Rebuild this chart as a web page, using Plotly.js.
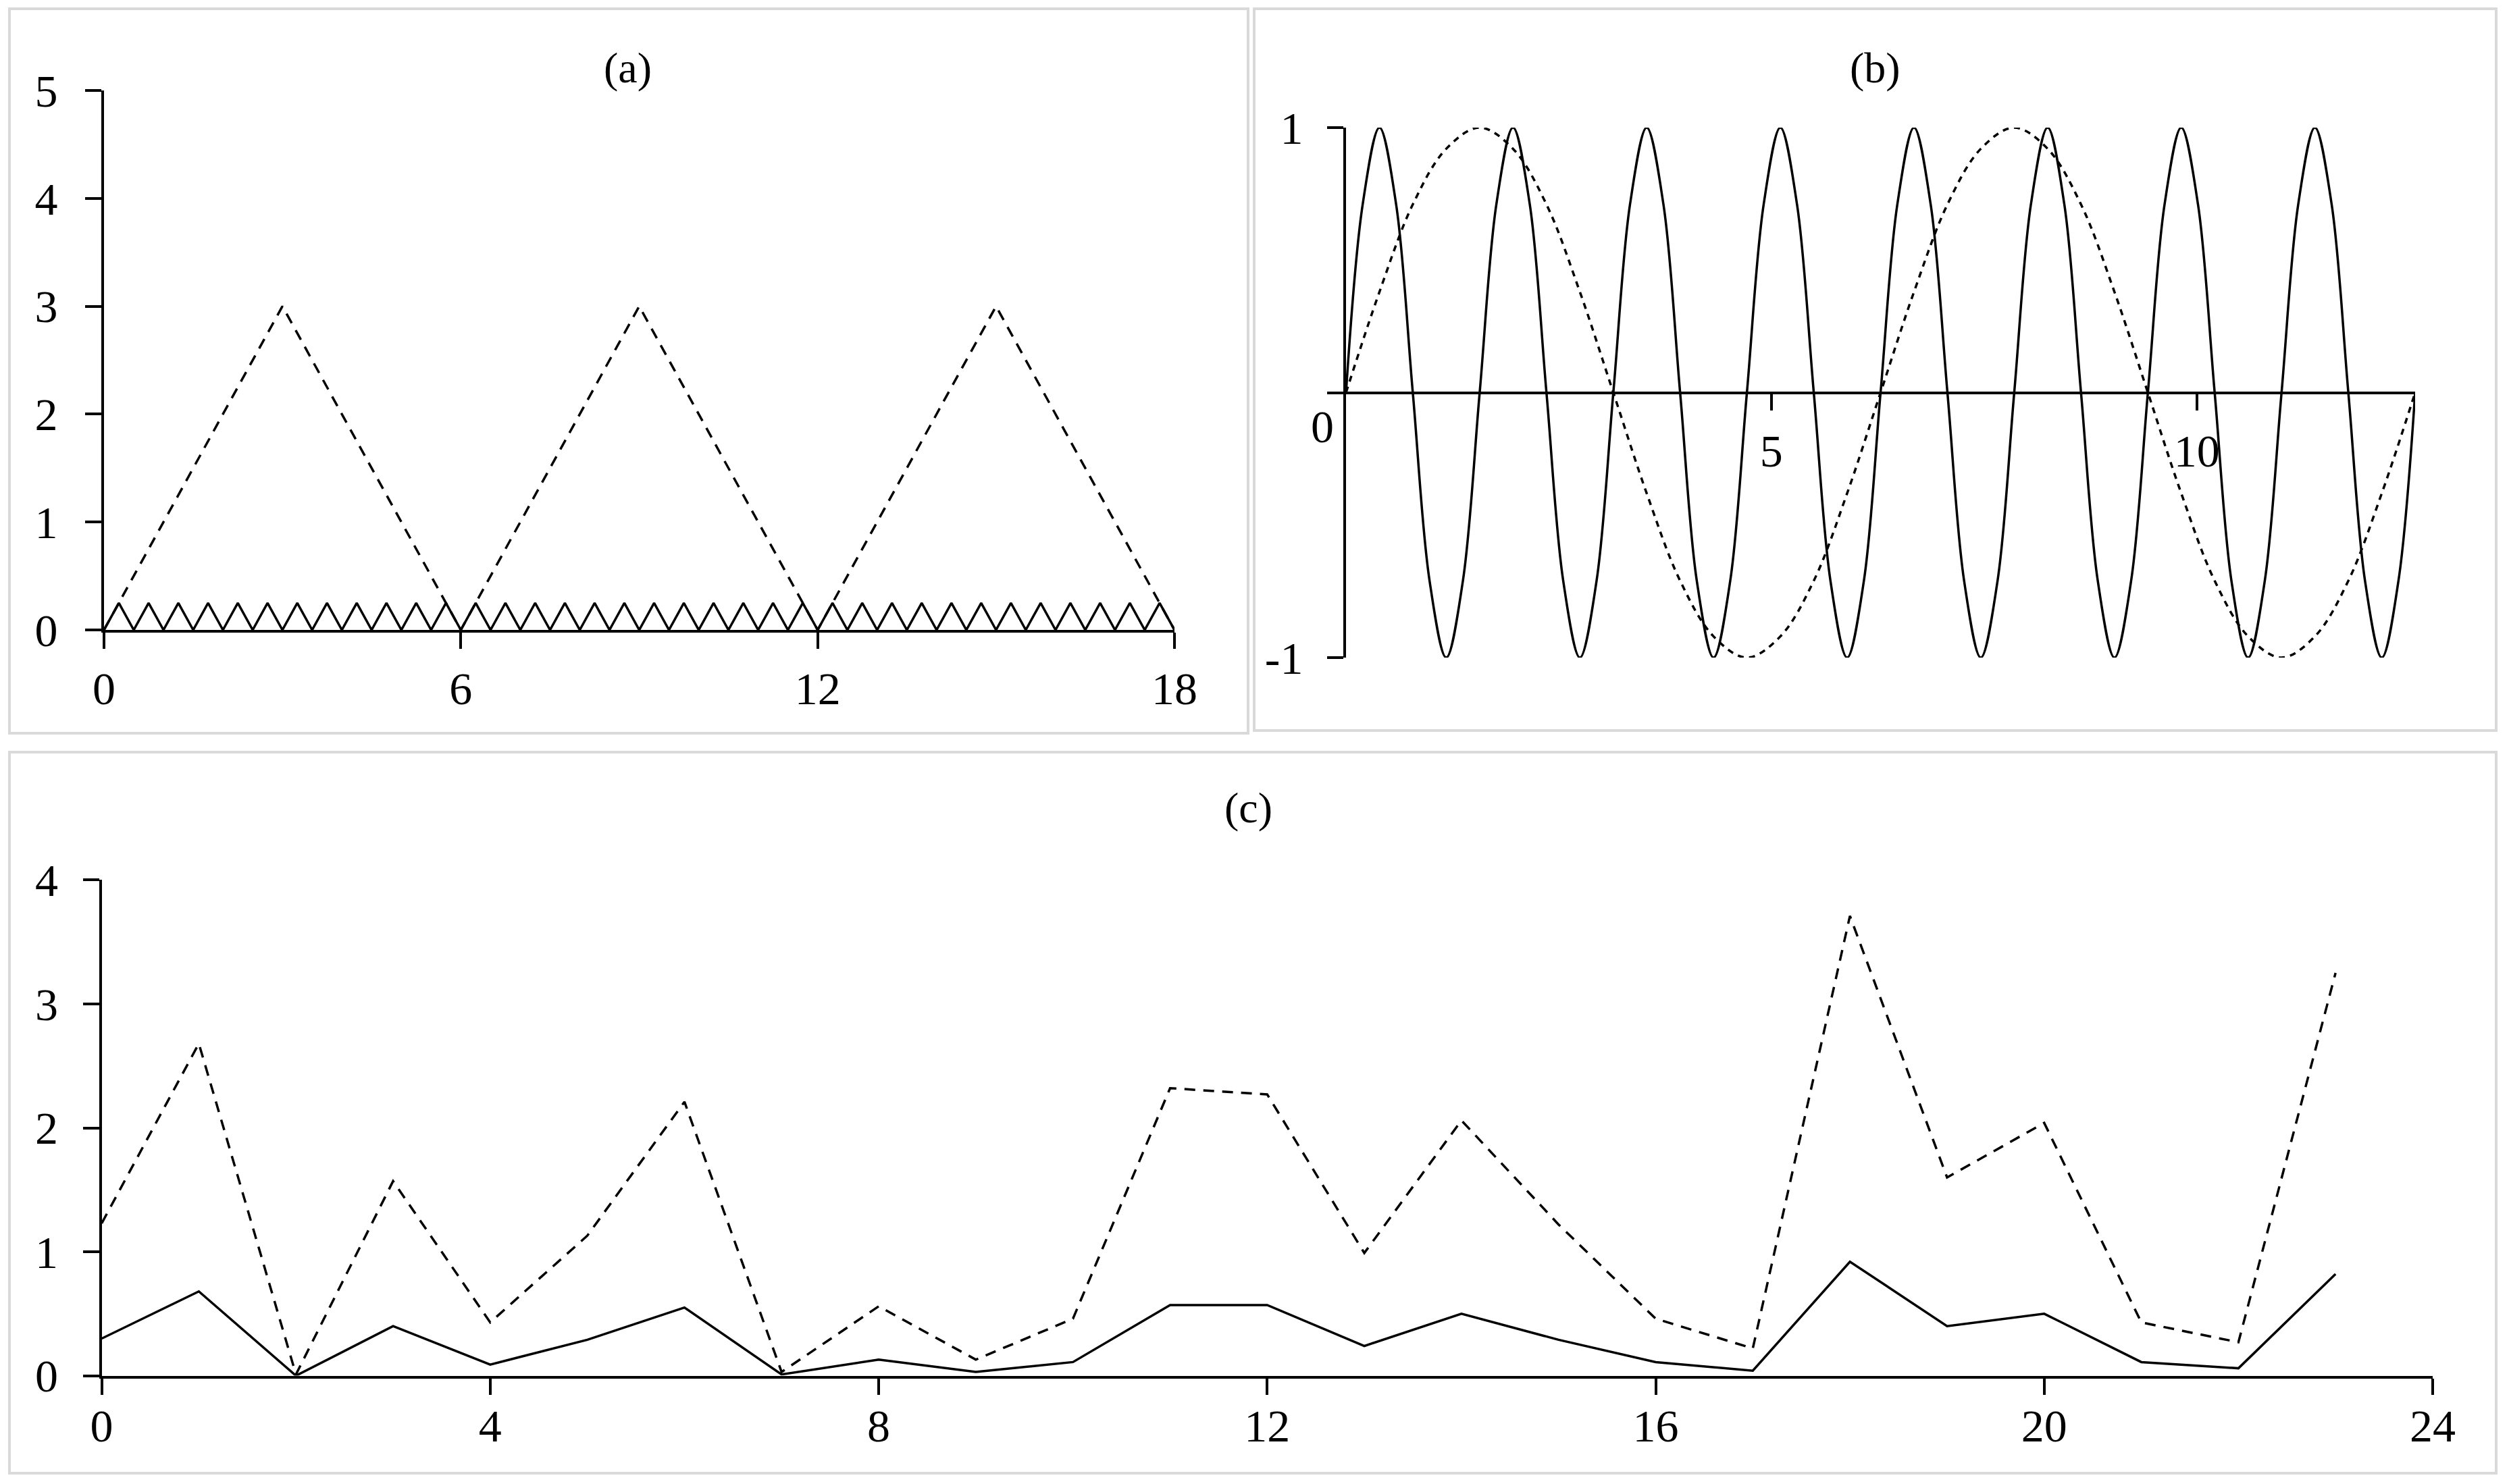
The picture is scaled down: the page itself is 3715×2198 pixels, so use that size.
<!DOCTYPE html>
<html>
<head>
<meta charset="utf-8">
<script src="https://cdn.plot.ly/plotly-3.0.1.min.js"></script>
<style>
  html, body { margin: 0; padding: 0; background: #fff; }
</style>
</head>
<body>
<div id="plot"></div>
<script>
// ---- panel (a) ----
const aTriX = [0, 3, 6, 9, 12, 15, 18];
const aTriY = [0, 3, 0, 3, 0, 3, 0];
const aZigX = [0, 0.25, 0.5, 0.75, 1, 1.25, 1.5, 1.75, 2, 2.25, 2.5, 2.75, 3, 3.25, 3.5, 3.75,
  4, 4.25, 4.5, 4.75, 5, 5.25, 5.5, 5.75, 6, 6.25, 6.5, 6.75, 7, 7.25, 7.5, 7.75,
  8, 8.25, 8.5, 8.75, 9, 9.25, 9.5, 9.75, 10, 10.25, 10.5, 10.75, 11, 11.25, 11.5, 11.75,
  12, 12.25, 12.5, 12.75, 13, 13.25, 13.5, 13.75, 14, 14.25, 14.5, 14.75, 15, 15.25, 15.5, 15.75,
  16, 16.25, 16.5, 16.75, 17, 17.25, 17.5, 17.75, 18];
const aZigY = [0, 0.25, 0, 0.25, 0, 0.25, 0, 0.25, 0, 0.25, 0, 0.25, 0, 0.25, 0, 0.25,
  0, 0.25, 0, 0.25, 0, 0.25, 0, 0.25, 0, 0.25, 0, 0.25, 0, 0.25, 0, 0.25,
  0, 0.25, 0, 0.25, 0, 0.25, 0, 0.25, 0, 0.25, 0, 0.25, 0, 0.25, 0, 0.25,
  0, 0.25, 0, 0.25, 0, 0.25, 0, 0.25, 0, 0.25, 0, 0.25, 0, 0.25, 0, 0.25,
  0, 0.25, 0, 0.25, 0, 0.25, 0, 0.25, 0];
const aXTicks = [0, 6, 12, 18];
const aYTicks = [0, 1, 2, 3, 4, 5];

// ---- panel (b) ----
const bSlowX = [0, 0.393, 0.785, 1.178, 1.571, 1.963, 2.356, 2.749, 3.142, 3.534, 3.927, 4.320,
  4.712, 5.105, 5.498, 5.890, 6.283, 6.676, 7.069, 7.461, 7.854, 8.247, 8.639, 9.032,
  9.425, 9.817, 10.210, 10.603, 10.996, 11.388, 11.781, 12.174, 12.566];
const bSlowY = [0, 0.38, 0.71, 0.92, 1, 0.92, 0.71, 0.38, 0, -0.38, -0.71, -0.92, -1, -0.92, -0.71, -0.38,
  0, 0.38, 0.71, 0.92, 1, 0.92, 0.71, 0.38, 0, -0.38, -0.71, -0.92, -1, -0.92, -0.71, -0.38, 0];
const bFastX = [0, 0.196, 0.393, 0.589, 0.785, 0.982, 1.178, 1.374, 1.571, 1.767, 1.963, 2.160,
  2.356, 2.553, 2.749, 2.945, 3.142, 3.338, 3.534, 3.731, 3.927, 4.123, 4.320, 4.516,
  4.712, 4.909, 5.105, 5.301, 5.498, 5.694, 5.890, 6.087, 6.283, 6.480, 6.676, 6.872,
  7.069, 7.265, 7.461, 7.658, 7.854, 8.050, 8.247, 8.443, 8.639, 8.836, 9.032, 9.228,
  9.425, 9.621, 9.817, 10.014, 10.210, 10.407, 10.603, 10.799, 10.996, 11.192, 11.388, 11.585,
  11.781, 11.977, 12.174, 12.370, 12.566];
const bFastY = [0, 0.71, 1, 0.71, 0, -0.71, -1, -0.71, 0, 0.71, 1, 0.71, 0, -0.71, -1, -0.71,
  0, 0.71, 1, 0.71, 0, -0.71, -1, -0.71, 0, 0.71, 1, 0.71, 0, -0.71, -1, -0.71,
  0, 0.71, 1, 0.71, 0, -0.71, -1, -0.71, 0, 0.71, 1, 0.71, 0, -0.71, -1, -0.71,
  0, 0.71, 1, 0.71, 0, -0.71, -1, -0.71, 0, 0.71, 1, 0.71, 0, -0.71, -1, -0.71, 0];
const bXTicks = [5, 10];
const bYTicks = [-1, 0, 1];
const bYLabels = ['-1', '', '1'];

// ---- panel (c) ----
const cHours = [0, 1, 2, 3, 4, 5, 6, 7, 8, 9, 10, 11, 12, 13, 14, 15, 16, 17, 18, 19, 20, 21, 22, 23];
const cDashed = [1.23, 2.68, 0.01, 1.57, 0.43, 1.13, 2.21, 0.03, 0.56, 0.13, 0.46, 2.32,
  2.27, 0.99, 2.06, 1.22, 0.46, 0.22, 3.71, 1.60, 2.04, 0.43, 0.27, 3.25];
const cSolid = [0.30, 0.68, 0.00, 0.40, 0.09, 0.29, 0.55, 0.01, 0.13, 0.03, 0.11, 0.57,
  0.57, 0.24, 0.50, 0.29, 0.11, 0.04, 0.92, 0.40, 0.50, 0.11, 0.06, 0.82];
const cXTicks = [0, 4, 8, 12, 16, 20, 24];
const cYTicks = [0, 1, 2, 3, 4];

// page size, helpers to place things in pixels
const W = 3715, H = 2198;
const fx = v => v / W;
const fy = v => 1 - v / H;
const FONT = 'Liberation Serif, Times New Roman, serif';

function axis(extra) {
  return Object.assign({
    showline: true, linecolor: '#000', linewidth: 4,
    ticks: 'outside', ticklen: 24, tickwidth: 4, tickcolor: '#000',
    showgrid: false, zeroline: false, fixedrange: true,
    tickmode: 'array', ticklabelstandoff: 24,
    tickfont: { family: FONT, size: 68, color: '#000' }
  }, extra);
}

const solid = { color: '#000', width: 3.5 };

const traces = [
  { x: aTriX, y: aTriY, xaxis: 'x', yaxis: 'y', mode: 'lines', line: { color: '#000', width: 3.5, dash: '16px,12px' } },
  { x: aZigX, y: aZigY, xaxis: 'x', yaxis: 'y', mode: 'lines', line: solid },

  { x: bSlowX, y: bSlowY, xaxis: 'x2', yaxis: 'y2', mode: 'lines', line: { color: '#000', width: 3.5, dash: '9px,8px', shape: 'spline' } },
  { x: bFastX, y: bFastY, xaxis: 'x2', yaxis: 'y2', mode: 'lines', line: { color: '#000', width: 3.5, shape: 'spline' } },

  { x: cHours, y: cDashed, xaxis: 'x3', yaxis: 'y3', mode: 'lines', line: { color: '#000', width: 3.5, dash: '16px,12px' } },
  { x: cHours, y: cSolid, xaxis: 'x3', yaxis: 'y3', mode: 'lines', line: solid }
];

const bYDomain = [fy(974), fy(189)];

const layout = {
  width: W, height: H,
  margin: { l: 0, r: 0, t: 0, b: 0 },
  paper_bgcolor: '#fff', plot_bgcolor: '#fff',
  showlegend: false,
  font: { family: FONT, color: '#000' },

  xaxis: axis({ domain: [fx(154), fx(1739)], range: [0, 18], tickvals: aXTicks, anchor: 'y', ticklabelstandoff: 0 }),
  yaxis: axis({ domain: [fy(933), fy(134)], range: [0, 5], tickvals: aYTicks, anchor: 'x', ticklabelstandoff: 27 }),

  xaxis2: axis({ domain: [fx(1993), fx(3576)], range: [0, 12.566], tickvals: bXTicks,
    anchor: 'free', position: (bYDomain[0] + bYDomain[1]) / 2, ticklabelstandoff: 2 }),
  yaxis2: axis({ domain: bYDomain, range: [-1, 1], tickvals: bYTicks, ticktext: bYLabels, anchor: 'x2', ticklabelstandoff: 22 }),

  xaxis3: axis({ domain: [fx(150.6), fx(3602)], range: [0, 24], tickvals: cXTicks, anchor: 'y3', ticklabelstandoff: -12 }),
  yaxis3: axis({ domain: [fy(2037.6), fy(1303.4)], range: [0, 4], tickvals: cYTicks, anchor: 'x3', ticklabelstandoff: 23 }),

  shapes: [
    { type: 'rect', xref: 'paper', yref: 'paper', x0: fx(14), x1: fx(1848), y0: fy(1086), y1: fy(13), line: { color: '#d9d9d9', width: 4 }, layer: 'below' },
    { type: 'rect', xref: 'paper', yref: 'paper', x0: fx(1857), x1: fx(3696), y0: fy(1082), y1: fy(13), line: { color: '#d9d9d9', width: 4 }, layer: 'below' },
    { type: 'rect', xref: 'paper', yref: 'paper', x0: fx(14), x1: fx(3696), y0: fy(2182), y1: fy(1114), line: { color: '#d9d9d9', width: 4 }, layer: 'below' }
  ],

  annotations: [
    { text: '(a)', xref: 'paper', yref: 'paper', x: fx(929), y: fy(100), showarrow: false, xanchor: 'center', yanchor: 'middle', font: { family: FONT, size: 64, color: '#000' } },
    { text: '(b)', xref: 'paper', yref: 'paper', x: fx(2776), y: fy(100), showarrow: false, xanchor: 'center', yanchor: 'middle', font: { family: FONT, size: 64, color: '#000' } },
    { text: '(c)', xref: 'paper', yref: 'paper', x: fx(1848), y: fy(1196), showarrow: false, xanchor: 'center', yanchor: 'middle', font: { family: FONT, size: 64, color: '#000' } },
    // the lone "0" under the origin of panel (b)
    { text: '0', xref: 'paper', yref: 'paper', x: fx(1958), y: fy(632), showarrow: false, xanchor: 'center', yanchor: 'middle', font: { family: FONT, size: 68, color: '#000' } }
  ]
};

Plotly.newPlot('plot', traces, layout, { staticPlot: true, displayModeBar: false });
</script>
</body>
</html>
